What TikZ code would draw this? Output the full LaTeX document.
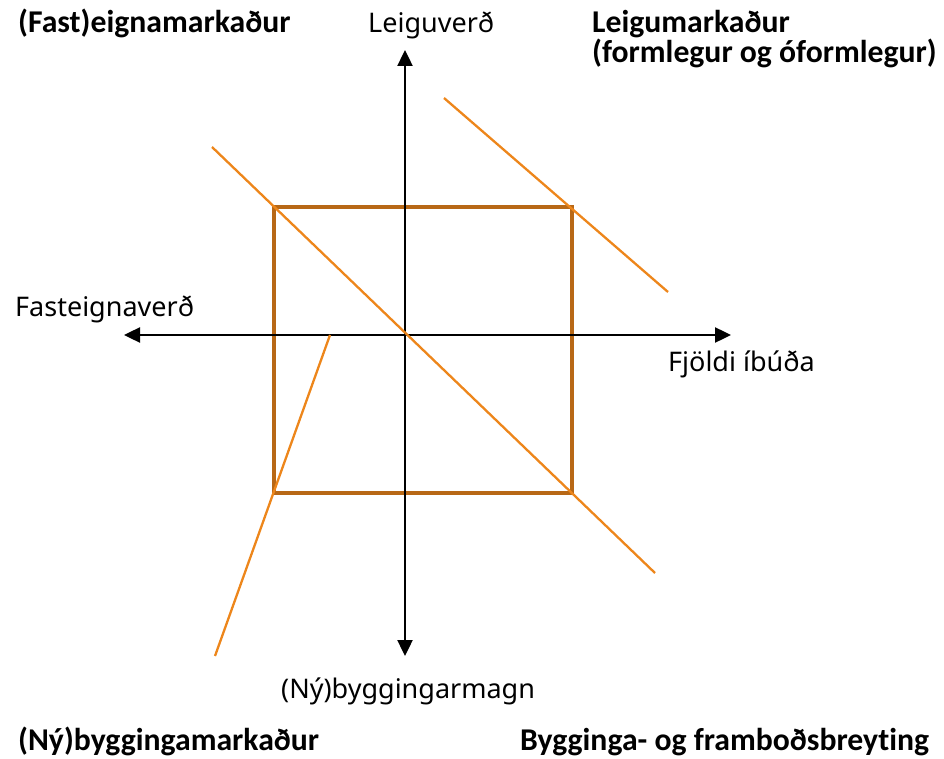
\documentclass[tikz,border=0pt]{standalone}
\usepackage{fontspec}
\setmainfont{Noto Sans}
\newfontfamily\boldlab[Ligatures=NoCommon]{Carlito}
\usetikzlibrary{arrows.meta}
\definecolor{sqbrown}{RGB}{184,104,22}
\definecolor{lnorange}{RGB}{237,134,27}
\tikzset{
  axis/.style={line width=2.4pt, -{Triangle[length=16pt,width=15pt]}},
  sqline/.style={draw=sqbrown, line width=3.2pt, line join=miter},
  orline/.style={draw=lnorange, line width=2.3pt},
  axlab/.style={inner sep=0pt, anchor=base west, font=\fontsize{27}{30}\selectfont},
  mktlab/.style={inner sep=0pt, anchor=base west, font=\boldlab\bfseries\fontsize{31.7}{30}\selectfont, align=left},
}
\begin{document}
\begin{tikzpicture}[x=1pt,y=-1pt]
\useasboundingbox (0,0) rectangle (944,759);
% square corners
\coordinate (s1) at (274,207);
\coordinate (s2) at (572,207);
\coordinate (s3) at (572,493);
\coordinate (s4) at (274,493);
\draw[sqline] (s1) -- (s2) -- (s3) -- (s4) -- cycle;
% axes
\coordinate (o) at (405,335);
\coordinate (top) at (405,50);
\coordinate (bot) at (405,656);
\coordinate (lef) at (124,335);
\coordinate (rig) at (731,335);
\draw[axis] (o) -- (top);
\draw[axis] (o) -- (bot);
\draw[axis] (o) -- (lef);
\draw[axis] (o) -- (rig);
% orange lines
\coordinate (a1) at (212,147);
\coordinate (a2) at (655,573);
\coordinate (b1) at (444,98);
\coordinate (b2) at (668,292);
\coordinate (c1) at (215,656);
\coordinate (c2) at (330,335);
\draw[orline] (a1) -- (a2);
\draw[orline] (b1) -- (b2);
\draw[orline] (c1) -- (c2);
% axis labels
\node[axlab] (lv) at (368,33) {Leiguverð};
\node[axlab] (fv) at (15,316) {Fasteignaverð};
\node[axlab] (fi) at (668,371) {Fjöldi íbúða};
\node[axlab] (nb) at (281,698) {(Ný)byggingarmagn};
% market labels
\node[mktlab] (fm) at (18,33) {(Fast)eignamarkaður};
\node[mktlab] (lm) at (592,63) {Leigumarkaður\\(formlegur og óformlegur)};
\node[mktlab] (bm) at (18,750) {(Ný)byggingamarkaður};
\node[mktlab] (bf) at (520,750) {Bygginga- og framboðsbreyting};
\end{tikzpicture}
\end{document}
